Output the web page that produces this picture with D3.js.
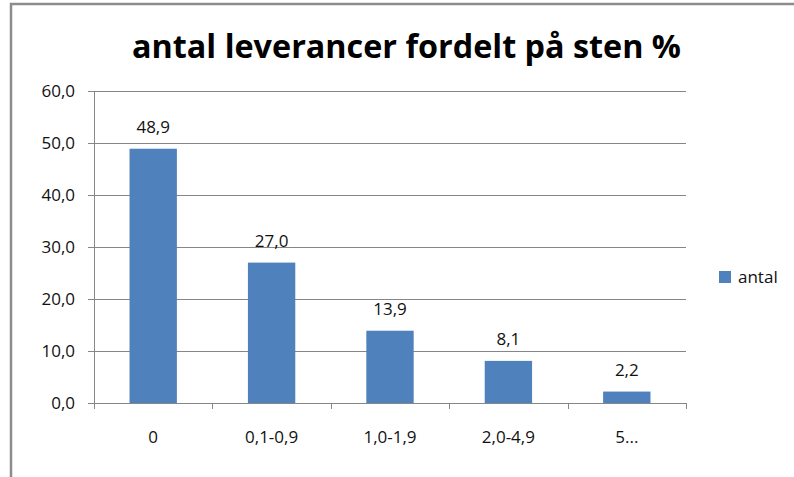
<!DOCTYPE html>
<html>
<head>
<meta charset="utf-8">
<script src="https://cdn.jsdelivr.net/npm/d3@7"></script>
<style>
  body { margin: 0; background: #fff; }
  text { font-family: "Open Sans", "Liberation Sans", sans-serif; fill: #111; }
</style>
</head>
<body>
<div id="chart"></div>
<script>
// data
var categories = ["0", "0,1-0,9", "1,0-1,9", "2,0-4,9", "5..."];
var values = [48.9, 27.0, 13.9, 8.1, 2.2];
var yTicks = [0, 10, 20, 30, 40, 50, 60];
var seriesName = "antal";
var title = "antal leverancer fordelt på sten %";

var W = 794, H = 477;
var plot = {left: 94, top: 91, right: 686, bottom: 403};
var axisColor = "#868686", barColor = "#4f81bd";
var labelSize = "17px";
var fmt = function(v) { return v.toFixed(1).replace(".", ","); };

var svg = d3.select("#chart").append("svg")
    .attr("width", W)
    .attr("height", H);

// chart frame (runs off the right/bottom of the picture)
svg.append("rect")
    .attr("x", 11).attr("y", 4)
    .attr("width", W + 20).attr("height", H + 20)
    .attr("fill", "#fff")
    .attr("stroke", "#8c8c8c")
    .attr("stroke-width", 2.5);

// title
svg.append("text")
    .attr("x", 132).attr("y", 58)
    .attr("textLength", 549)
    .attr("lengthAdjust", "spacingAndGlyphs")
    .style("font-size", "32px")
    .style("font-weight", "bold")
    .style("fill", "#000")
    .text(title);

var x = d3.scaleBand()
    .domain(categories)
    .range([plot.left, plot.right])
    .paddingInner(0.6)
    .paddingOuter(0.3);

var xEdge = d3.scaleLinear()
    .domain([0, categories.length])
    .range([plot.left, plot.right]);

var y = d3.scaleLinear()
    .domain([0, 60])
    .range([plot.bottom, plot.top]);

// gridlines + y labels
var grid = svg.append("g");
yTicks.forEach(function(t) {
  grid.append("line")
      .attr("x1", plot.left - 6).attr("x2", plot.right)
      .attr("y1", Math.round(y(t)) + 0.5).attr("y2", Math.round(y(t)) + 0.5)
      .attr("stroke", axisColor).attr("stroke-width", 1);
  grid.append("text")
      .attr("x", 75).attr("y", y(t))
      .attr("dy", "0.35em")
      .attr("text-anchor", "end")
      .style("font-size", labelSize)
      .text(fmt(t));
});

// y axis line
svg.append("line")
    .attr("x1", plot.left + 0.5).attr("x2", plot.left + 0.5)
    .attr("y1", plot.top).attr("y2", plot.bottom + 6)
    .attr("stroke", axisColor);

// category boundary ticks
d3.range(categories.length + 1).forEach(function(i) {
  svg.append("line")
      .attr("x1", Math.round(xEdge(i)) + 0.5).attr("x2", Math.round(xEdge(i)) + 0.5)
      .attr("y1", plot.bottom).attr("y2", plot.bottom + 6)
      .attr("stroke", axisColor);
});

// bars
svg.append("g").selectAll("rect")
    .data(values)
    .enter()
    .append("rect")
      .attr("x", function(d, i) { return x(categories[i]); })
      .attr("y", function(d) { return y(d); })
      .attr("width", x.bandwidth())
      .attr("height", function(d) { return y(0) - y(d); })
      .attr("fill", barColor);

// value labels
svg.append("g").selectAll("text")
    .data(values)
    .enter()
    .append("text")
      .attr("x", function(d, i) { return x(categories[i]) + x.bandwidth() / 2; })
      .attr("y", function(d) { return y(d) - 16; })
      .attr("text-anchor", "middle")
      .style("font-size", labelSize)
      .text(function(d) { return fmt(d); });

// category labels
svg.append("g").selectAll("text")
    .data(categories)
    .enter()
    .append("text")
      .attr("x", function(d) { return x(d) + x.bandwidth() / 2; })
      .attr("y", 443)
      .attr("text-anchor", "middle")
      .style("font-size", labelSize)
      .text(function(d) { return d; });

// legend
svg.append("rect")
    .attr("x", 719).attr("y", 271)
    .attr("width", 12).attr("height", 12)
    .attr("fill", barColor);
svg.append("text")
    .attr("x", 738).attr("y", 283)
    .style("font-size", labelSize)
    .text(seriesName);
</script>
</body>
</html>
